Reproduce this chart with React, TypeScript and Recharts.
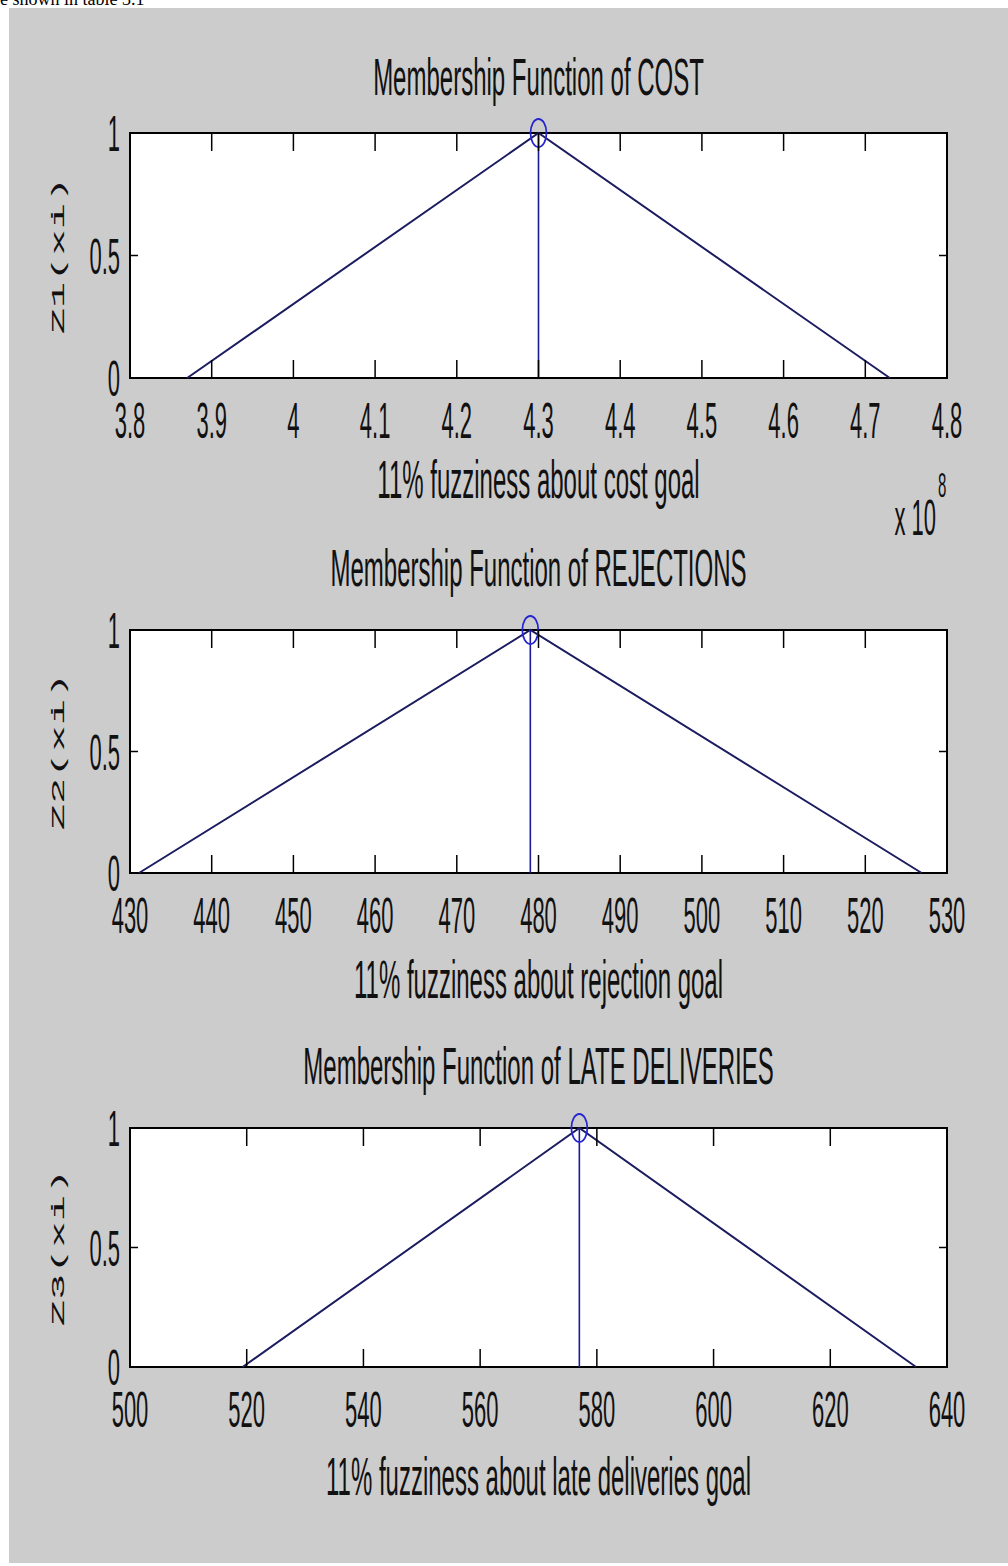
import { LineChart, Line, XAxis, YAxis, CartesianGrid, ReferenceArea } from "recharts";

// membership values at left foot, peak, right foot
const MEMBERSHIP = [0, 1, 0];
const Y_TICKS = [0, 0.5, 1];
const Y_TICK_LABELS = ["0", "0.5", "1"];

const COST_X = [3.87e8, 4.3e8, 4.73e8];
const COST_TICKS = [3.8e8, 3.9e8, 4.0e8, 4.1e8, 4.2e8, 4.3e8, 4.4e8, 4.5e8, 4.6e8, 4.7e8, 4.8e8];
const COST_TICK_LABELS = ["3.8", "3.9", "4", "4.1", "4.2", "4.3", "4.4", "4.5", "4.6", "4.7", "4.8"];

const REJ_X = [431.1, 479, 526.9];
const REJ_TICKS = [430, 440, 450, 460, 470, 480, 490, 500, 510, 520, 530];
const REJ_TICK_LABELS = ["430", "440", "450", "460", "470", "480", "490", "500", "510", "520", "530"];

const LATE_X = [519.3, 577, 634.7];
const LATE_TICKS = [500, 520, 540, 560, 580, 600, 620, 640];
const LATE_TICK_LABELS = ["500", "520", "540", "560", "580", "600", "620", "640"];

const TITLES = ["Membership Function of COST", "Membership Function of REJECTIONS", "Membership Function of LATE DELIVERIES"];
const XLABELS = ["11% fuzziness about cost goal", "11% fuzziness about rejection goal", "11% fuzziness about late deliveries goal"];
const YLABELS = ["Z1(xi)", "Z2(xi)", "Z3(xi)"];

const PLOT_LEFT = 130;
const PLOT_W = 817;
const STRETCH = 2.3; // the whole figure was squashed sideways
const FONT = "'Liberation Sans', Arial, sans-serif";
const TOP_PAD = 40;
const AXIS_H = 80;

interface SubplotProps {
  plotTop: number;
  plotH: number;
  xs: number[];
  ticks: number[];
  labels: string[];
  xlabelGap: number;
}

function Subplot({ plotTop, plotH, xs, ticks, labels }: SubplotProps) {
  const lineData = xs.map((x, i) => ({ x, y: MEMBERSHIP[i] }));
  const stemData = [{ x: xs[1], y: 0 }, { x: xs[1], y: 1 }];
  const lo = ticks[0];
  const hi = ticks[ticks.length - 1];

  const xTick = (p: any) => {
    const idx = ticks.indexOf(p.payload.value);
    const inner = idx > 0 && idx < ticks.length - 1;
    return (
      <g key={`xt-${idx}`}>
        {inner && <line x1={p.x} x2={p.x} y1={p.y} y2={p.y - 18} stroke="#000" strokeWidth={1.5} />}
        {inner && <line x1={p.x} x2={p.x} y1={p.y - plotH} y2={p.y - plotH + 18} stroke="#000" strokeWidth={1.5} />}
        <text transform={`translate(${p.x},${p.y + 60}) scale(1,${STRETCH})`} textAnchor="middle" fontSize={22} fontFamily={FONT} fill="#111">
          {labels[idx]}
        </text>
      </g>
    );
  };

  const yTick = (p: any) => {
    const idx = Y_TICKS.indexOf(p.payload.value);
    return (
      <g key={`yt-${idx}`}>
        <line x1={p.x} x2={p.x + 8} y1={p.y} y2={p.y} stroke="#000" strokeWidth={1.5} />
        <line x1={p.x + PLOT_W - 8} x2={p.x + PLOT_W} y1={p.y} y2={p.y} stroke="#000" strokeWidth={1.5} />
        <text transform={`translate(${p.x - 10},${p.y + 18}) scale(1,${STRETCH})`} textAnchor="end" fontSize={22} fontFamily={FONT} fill="#111">
          {Y_TICK_LABELS[idx]}
        </text>
      </g>
    );
  };

  const stemDot = (p: any) => {
    if (p.payload.y !== 1) return <g key={`d-${p.index}`} />;
    return <ellipse key={`d-${p.index}`} cx={p.cx} cy={p.cy} rx={8} ry={14} fill="none" stroke="#2626d0" strokeWidth={1.8} />;
  };

  return (
    <div style={{ position: "absolute", left: 0, top: plotTop - TOP_PAD }}>
      <LineChart width={1008} height={TOP_PAD + plotH + AXIS_H} margin={{ top: TOP_PAD, right: 1008 - PLOT_LEFT - PLOT_W, bottom: 0, left: PLOT_LEFT - 60 }}>
        <CartesianGrid fill="#fff" horizontal={false} vertical={false} stroke="none" />
        <XAxis type="number" dataKey="x" domain={[lo, hi]} ticks={ticks} interval={0} height={AXIS_H}
          axisLine={false} tickLine={false} tickSize={0} tickMargin={0} tick={xTick} allowDataOverflow />
        <YAxis type="number" domain={[0, 1]} ticks={Y_TICKS} interval={0} width={60}
          axisLine={false} tickLine={false} tickSize={0} tickMargin={0} tick={yTick} />
        <Line data={lineData} dataKey="y" stroke="#1c1c60" strokeWidth={2} dot={false} activeDot={false} isAnimationActive={false} />
        <Line data={stemData} dataKey="y" stroke="#1a1a9a" strokeWidth={1.6} dot={stemDot} activeDot={false} isAnimationActive={false} />
        <ReferenceArea x1={lo} x2={hi} y1={0} y2={1} fill="none" stroke="#000" strokeWidth={2} ifOverflow="visible" />
      </LineChart>
    </div>
  );
}

const PLOTS = [
  { plotTop: 133, plotH: 245, xs: COST_X, ticks: COST_TICKS, labels: COST_TICK_LABELS, xlabelGap: 120 },
  { plotTop: 630, plotH: 243, xs: REJ_X, ticks: REJ_TICKS, labels: REJ_TICK_LABELS, xlabelGap: 125 },
  { plotTop: 1128, plotH: 239, xs: LATE_X, ticks: LATE_TICKS, labels: LATE_TICK_LABELS, xlabelGap: 128 },
];

export default function App() {
  const cx = PLOT_LEFT + PLOT_W / 2;
  return (
    <div style={{ position: "absolute", left: 0, top: 0, width: 1008, height: 1566, background: "#fff", overflow: "hidden" }}>
      <div style={{ position: "absolute", left: 9, top: 8, width: 999, height: 1555, background: "#cccccc" }} />
      {PLOTS.map((p, i) => (
        <Subplot key={i} {...p} />
      ))}
      <svg width={1008} height={1566} style={{ position: "absolute", left: 0, top: 0, pointerEvents: "none" }}>
        <text x={0} y={5} fontSize={18} fontFamily="'Liberation Serif', serif" fill="#000">e shown in table 3.1</text>
        {PLOTS.map((p, i) => (
          <g key={i}>
            <text transform={`translate(${cx},${p.plotTop - (i === 0 ? 38 : 44)}) scale(1,2.15)`} textAnchor="middle" fontSize={24} fontFamily={FONT} fill="#111">
              {TITLES[i]}
            </text>
            <text transform={`translate(${cx},${p.plotTop + p.plotH + p.xlabelGap}) scale(1,2.2)`} textAnchor="middle" fontSize={24} fontFamily={FONT} fill="#111">
              {XLABELS[i]}
            </text>
            <text transform={`translate(64,${p.plotTop + p.plotH / 2}) scale(1,${STRETCH}) rotate(-90)`} textAnchor="middle" fontSize={19} fontFamily="'Liberation Mono', monospace" fill="#111">
              {YLABELS[i]}
            </text>
          </g>
        ))}
        <text transform={`translate(936,535) scale(1,${STRETCH})`} textAnchor="end" fontSize={22} fontFamily={FONT} fill="#111">x 10</text>
        <text transform={`translate(938,497) scale(1,${STRETCH})`} textAnchor="start" fontSize={15} fontFamily={FONT} fill="#111">8</text>
      </svg>
    </div>
  );
}
